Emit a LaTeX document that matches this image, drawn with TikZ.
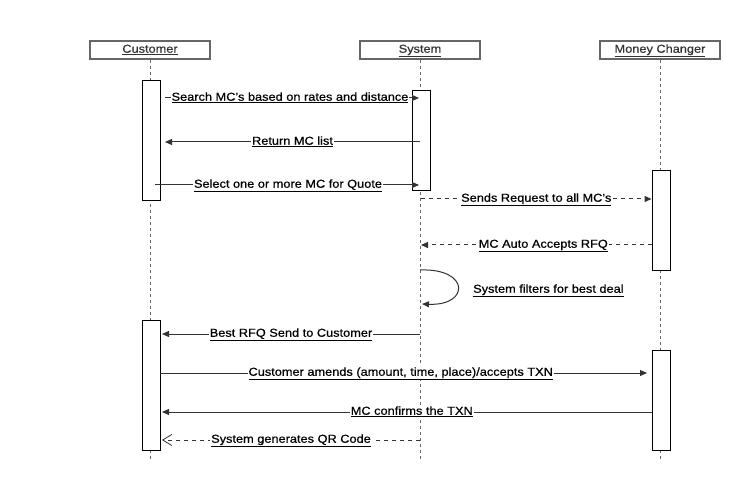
\documentclass[tikz,border=0pt]{standalone}
\usepackage{fontspec}
\setmainfont[FakeStretch=1.11,FakeBold=0.6]{Liberation Sans}
\usetikzlibrary{arrows.meta}
\definecolor{boxgray}{HTML}{666666}
\definecolor{linegray}{HTML}{333333}
\tikzset{
  head/.style={draw=boxgray, line width=1.6pt, fill=white, minimum width=120pt, minimum height=18pt, inner sep=0pt, text height=8.5pt, text depth=3pt, font=\fontsize{11.5}{13}\selectfont, text=linegray},
  life/.style={draw=boxgray, line width=1pt, dash pattern=on 3pt off 3pt},
  act/.style={draw=black, line width=0.9pt, fill=white, minimum width=18pt, inner sep=0pt},
  msg/.style={draw=linegray, line width=1pt, -{Triangle[length=7pt,width=6pt]}},
  dmsg/.style={msg, dash pattern=on 4pt off 4pt},
  rmsg/.style={draw=linegray, line width=1pt, dash pattern=on 4pt off 4pt, -{Straight Barb[length=9pt,width=11pt,line width=0.8pt]}},
  lbl/.style={fill=white, inner sep=1pt, text height=8.5pt, text depth=3pt, font=\fontsize{11.5}{13}\selectfont, text=black},
}
\newcommand{\ul}[1]{\underline{#1}}
\begin{document}
\begin{tikzpicture}[x=1pt,y=-1pt]
\useasboundingbox[fill=white] (0,0) rectangle (742,481);
% lifelines
\coordinate (custend) at (150,460);
\coordinate (sysend) at (420,460);
\coordinate (mcend) at (660,460);
\node[head] (cust) at (150,50) {\ul{Customer}};
\node[head] (sys) at (420,50) {\ul{System}};
\node[head] (mc) at (660,50) {\ul{Money Changer}};
\draw[life] (cust.south) -- (custend);
\draw[life] (sys.south) -- (sysend);
\draw[life] (mc.south) -- (mcend);
% activations
\node[act, minimum height=120pt] (ca1) at (151,140) {};
\node[act, minimum height=100pt] (sa1) at (421,140) {};
\node[act, minimum height=100pt] (ma1) at (661,220) {};
\node[act, minimum height=130pt] (ca2) at (151,385) {};
\node[act, minimum height=100pt] (ma2) at (661,400) {};
% message endpoints
\coordinate (m1s) at (165,98);
\coordinate (m1e) at (419,98);
\coordinate (m2s) at (420,142);
\coordinate (m2e) at (165,142);
\coordinate (m3s) at (155,185);
\coordinate (m3e) at (419,185);
\coordinate (m4s) at (421,199);
\coordinate (m5e) at (421,245);
\coordinate (l1) at (420,270);
\coordinate (l2) at (422,304);
\coordinate (m7s) at (420,334);
\coordinate (m7e) at (162,334);
\coordinate (m8e) at (647,373);
\coordinate (m9e) at (162,412);
\coordinate (m10s) at (420,440);
\coordinate (m10e) at (162,440);
% messages
\draw[msg] (m1s) -- (m1e) node[lbl, midway, xshift=-2pt] {\ul{Search MC's based on rates and distance}};
\draw[msg] (m2s) -- (m2e) node[lbl, midway] {\ul{Return MC list}};
\draw[msg] (m3s) -- (m3e) node[lbl, midway, xshift=1pt] {\ul{Select one or more MC for Quote}};
\draw[dmsg] (m4s) -- (ma1.west |- m4s) node[lbl, midway] {\ul{Sends Request to all MC's}};
\draw[dmsg] (ma1.west |- m5e) -- (m5e) node[lbl, midway, xshift=7pt] {\ul{MC Auto Accepts RFQ}};
\draw[msg] (l1) .. controls (470,268) and (470,306) .. (l2);
\node[lbl, anchor=west] (fl) at (472,290) {\ul{System filters for best deal}};
\draw[msg] (m7s) -- (m7e) node[lbl, midway] {\ul{Best RFQ Send to Customer}};
\draw[msg] (ca2.east |- m8e) -- (m8e) node[lbl, midway, xshift=-3pt] {\ul{Customer amends (amount, time, place)/accepts TXN}};
\draw[msg] (ma2.west |- m9e) -- (m9e) node[lbl, midway, xshift=5pt] {\ul{MC confirms the TXN}};
\draw[rmsg] (m10s) -- (m10e) node[lbl, midway] {\ul{System generates QR Code}};
\end{tikzpicture}
\end{document}
